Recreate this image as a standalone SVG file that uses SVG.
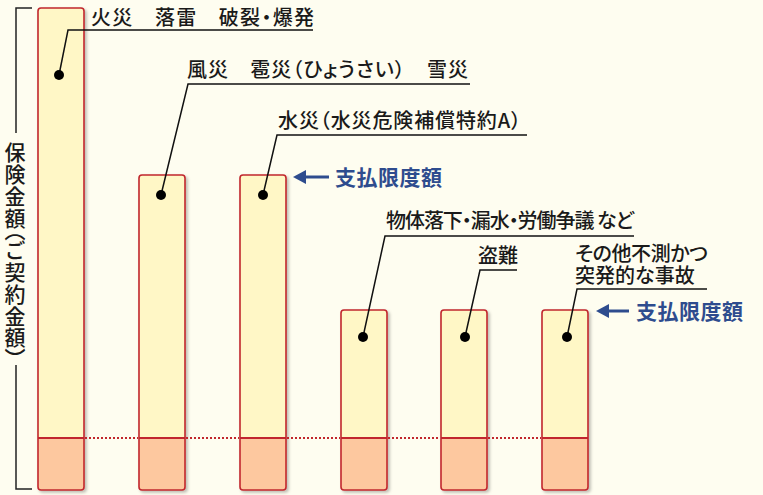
<svg xmlns="http://www.w3.org/2000/svg" width="763" height="495" viewBox="0 0 763 495">
<defs>
<style>
.bg{fill:#FEFDF0}
.bar{fill:#FFF7C6;stroke:none}
.base{fill:#FDC89F}
.out{fill:none;stroke:#C1272D;stroke-width:1.6}
.div{stroke:#C1272D;stroke-width:2}
.dot{stroke:#C1272D;stroke-width:2;stroke-dasharray:2 2}
.ld{fill:none;stroke:#111;stroke-width:1.5}
.pt{fill:#000}
.t{font-family:"Noto Sans CJK JP","Noto Sans",sans-serif;font-size:20px;fill:#1a1a1a;font-weight:500;font-feature-settings:"palt"}
.v{font-family:"Noto Sans CJK JP","Noto Sans",sans-serif;font-size:21px;fill:#1a1a1a;font-weight:500;font-feature-settings:"vpal"}
.b{font-family:"Noto Sans CJK JP","Noto Sans",sans-serif;font-size:21px;fill:#2E4C8E;font-weight:700}
.ar{fill:none;stroke:#2E4C8E;stroke-width:3}
.ah{fill:#2E4C8E}
.br{fill:none;stroke:#222;stroke-width:1.5}
</style>
<filter id="sh" x="-20%" y="-5%" width="150%" height="110%">
<feDropShadow dx="2" dy="2" stdDeviation="1.5" flood-color="#000" flood-opacity="0.25"/>
</filter>
</defs>
<rect class="bg" x="0" y="0" width="763" height="495"/>

<g id="bracket">
<path class="br" d="M32,8 H16 V133 M16,365 V489 H32"/>
<text class="v" x="15" y="142" writing-mode="tb" style="writing-mode:vertical-rl" text-anchor="start" textLength="217" lengthAdjust="spacing">保険金額（ご契約金額）</text>
</g>

<g id="bar1" filter="url(#sh)">
<rect class="bar" x="38" y="8" width="46" height="482" rx="3"/>
<path class="base" d="M38,438 H84 V487 Q84,490 81,490 H41 Q38,490 38,487 Z"/>
<line class="div" x1="38" y1="438" x2="84" y2="438"/>
<rect class="out" x="38" y="8" width="46" height="482" rx="3"/>
</g>
<g id="bar2" filter="url(#sh)">
<rect class="bar" x="139" y="175" width="46" height="315" rx="3"/>
<path class="base" d="M139,438 H185 V487 Q185,490 182,490 H142 Q139,490 139,487 Z"/>
<line class="div" x1="139" y1="438" x2="185" y2="438"/>
<rect class="out" x="139" y="175" width="46" height="315" rx="3"/>
</g>
<g id="bar3" filter="url(#sh)">
<rect class="bar" x="240" y="175" width="46" height="315" rx="3"/>
<path class="base" d="M240,438 H286 V487 Q286,490 283,490 H243 Q240,490 240,487 Z"/>
<line class="div" x1="240" y1="438" x2="286" y2="438"/>
<rect class="out" x="240" y="175" width="46" height="315" rx="3"/>
</g>
<g id="bar4" filter="url(#sh)">
<rect class="bar" x="341" y="310" width="46" height="180" rx="3"/>
<path class="base" d="M341,438 H387 V487 Q387,490 384,490 H344 Q341,490 341,487 Z"/>
<line class="div" x1="341" y1="438" x2="387" y2="438"/>
<rect class="out" x="341" y="310" width="46" height="180" rx="3"/>
</g>
<g id="bar5" filter="url(#sh)">
<rect class="bar" x="441" y="310" width="46" height="180" rx="3"/>
<path class="base" d="M441,438 H487 V487 Q487,490 484,490 H444 Q441,490 441,487 Z"/>
<line class="div" x1="441" y1="438" x2="487" y2="438"/>
<rect class="out" x="441" y="310" width="46" height="180" rx="3"/>
</g>
<g id="bar6" filter="url(#sh)">
<rect class="bar" x="542" y="310" width="46" height="180" rx="3"/>
<path class="base" d="M542,438 H588 V487 Q588,490 585,490 H545 Q542,490 542,487 Z"/>
<line class="div" x1="542" y1="438" x2="588" y2="438"/>
<rect class="out" x="542" y="310" width="46" height="180" rx="3"/>
</g>

<g id="connectors">
<line class="dot" x1="85" y1="438" x2="138" y2="438"/>
<line class="dot" x1="186" y1="438" x2="239" y2="438"/>
<line class="dot" x1="287" y1="438" x2="340" y2="438"/>
<line class="dot" x1="388" y1="438" x2="440" y2="438"/>
<line class="dot" x1="488" y1="438" x2="541" y2="438"/>
<polyline class="ld" points="59,75 68,30 313,30"/>
<polyline class="ld" points="161,195 188,84 470,84"/>
<polyline class="ld" points="263,195 277,135 527,135"/>
<polyline class="ld" points="363,337 385,236 634,236"/>
<polyline class="ld" points="465,337 480,270 517,270"/>
<polyline class="ld" points="567,337 577,289 707,289"/>
<circle class="pt" cx="59" cy="75" r="5"/>
<circle class="pt" cx="161" cy="195" r="5"/>
<circle class="pt" cx="263" cy="195" r="5"/>
<circle class="pt" cx="363" cy="337" r="5"/>
<circle class="pt" cx="465" cy="337" r="5"/>
<circle class="pt" cx="567" cy="337" r="5"/>
</g>

<g id="labels">
<text class="t" x="91" y="25" textLength="223" lengthAdjust="spacing">火災　落雷　破裂・爆発</text>
<text class="t" x="187" y="77" textLength="281" lengthAdjust="spacing">風災　雹災（ひょうさい）　雪災</text>
<text class="t" x="278" y="128" textLength="243" lengthAdjust="spacing">水災（水災危険補償特約A）</text>
<text class="t" x="386" y="228" textLength="248" lengthAdjust="spacing">物体落下・漏水・労働争議 など</text>
<text class="t" x="478" y="263">盗難</text>
<text class="t" x="575" y="261" textLength="133" lengthAdjust="spacing">その他不測かつ</text>
<text class="t" x="575" y="283">突発的な事故</text>
</g>

<g id="limit1">
<line class="ar" x1="304" y1="177" x2="329" y2="177"/>
<polygon class="ah" points="293,177 306,170 306,184"/>
<text class="b" x="335" y="185" textLength="107" lengthAdjust="spacing">支払限度額</text>
</g>
<g id="limit2">
<line class="ar" x1="607" y1="311" x2="629" y2="311"/>
<polygon class="ah" points="596,311 609,304 609,318"/>
<text class="b" x="636" y="319" textLength="107" lengthAdjust="spacing">支払限度額</text>
</g>
</svg>
